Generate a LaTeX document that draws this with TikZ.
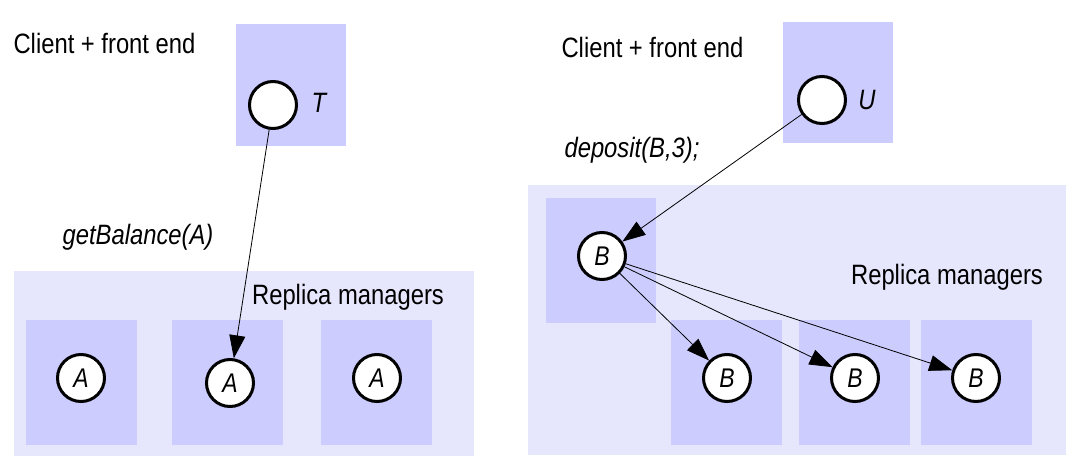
\documentclass[tikz,border=0pt]{standalone}
\usepackage{fontspec}
\setmainfont{Liberation Sans}[FakeStretch=0.85]
\usetikzlibrary{arrows.meta}
\definecolor{outer}{RGB}{230, 230, 252}
\definecolor{inner}{RGB}{204, 204, 255}

\begin{document}
\begin{tikzpicture}[x=1pt, y=-1pt, font=\fontsize{28}{32}\selectfont,
  proc/.style={circle, draw, line width=3pt, fill=white, minimum size=47pt,
    inner sep=0pt, font=\fontsize{27}{30}\selectfont\itshape},
  call/.style={-{Triangle[length=23pt, width=16pt]}, line width=0.8pt}]

  \useasboundingbox (0, 0) rectangle (1080, 474);

  % left: getBalance
  \fill[inner] (236, 24) rectangle (346, 146);
  \fill[outer] (14, 271) rectangle (474, 456);
  \foreach \x in {26, 172, 321} {
    \fill[inner] (\x, 320) rectangle ++(111, 125);
  }
  \node[anchor=west] (clientL) at (10, 43) {Client + front end};
  \node[proc] (T) at (273, 105) {};
  \node (labT) at (319, 103) {\itshape T};
  \node (getbal) at (138, 237) {\itshape getBalance(A)};
  \node (replL) at (348, 297) {Replica managers};
  \node[proc] (A1) at (81, 378) {A};
  \node[proc] (A2) at (230, 383) {A};
  \node[proc] (A3) at (377, 378) {A};
  \draw[call] (T) -- (A2);

  % right: deposit
  \fill[inner] (783, 22) rectangle (893, 143);
  \fill[outer] (528, 185) rectangle (1066, 455);
  \fill[inner] (546, 198) rectangle (656, 323);
  \foreach \x in {671, 799, 921} {
    \fill[inner] (\x, 320) rectangle ++(111, 125);
  }
  \node[anchor=west] (clientR) at (558, 47) {Client + front end};
  \node[proc] (U) at (822, 100) {};
  \node (labU) at (867, 100) {\itshape U};
  \node (dep) at (632, 150) {\itshape deposit(B,3);};
  \node (replR) at (947, 277) {Replica managers};
  \node[proc] (B0) at (602, 256) {B};
  \node[proc] (B1) at (727, 378) {B};
  \node[proc] (B2) at (855, 378) {B};
  \node[proc] (B3) at (976, 378) {B};
  \draw[call] (U) -- (B0);
  \foreach \n in {B1, B2, B3} {
    \draw[call] (B0) -- (\n);
  }

\end{tikzpicture}
\end{document}
